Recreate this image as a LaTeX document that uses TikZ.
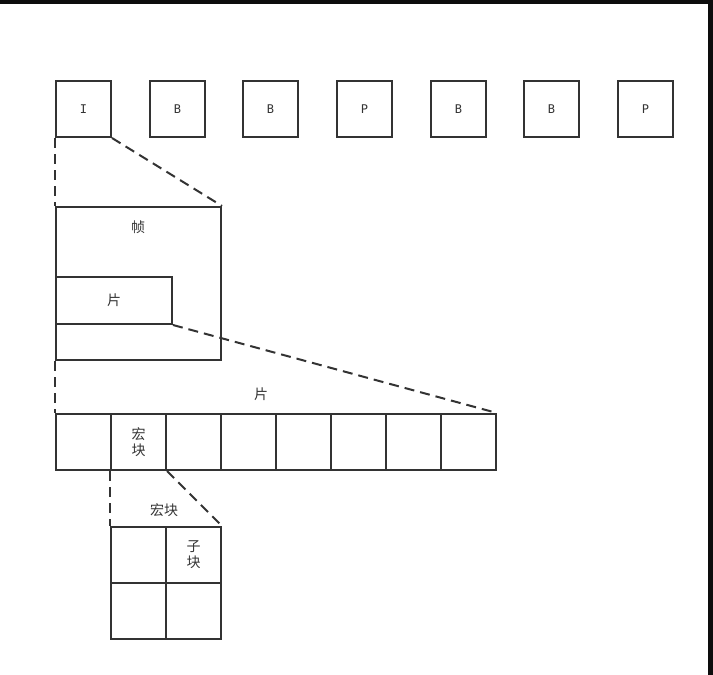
\documentclass[tikz,border=0pt]{standalone}
\usepackage{fontspec}
\setmainfont{Noto Sans CJK SC}
\newfontfamily\letterfont{DejaVu Sans Mono}
\usetikzlibrary{positioning}
\definecolor{ink}{HTML}{333333}

\begin{document}
\begin{tikzpicture}[x=1pt, y=-1pt, line width=2pt, font=\fontsize{14}{16}\selectfont,
    box/.style={rectangle, draw=ink, inner sep=0pt, text=ink, minimum width=55pt, minimum height=56pt},
    frm/.style={box, font=\letterfont\fontsize{12}{14}\selectfont},
    lbl/.style={inner sep=0pt, text=ink},
    zoomline/.style={draw=ink, dash pattern=on 10pt off 6pt}]
            \useasboundingbox (0,0) rectangle (713,675);
            \fill[black!95] (0,0) rectangle (713,3.5);
            \fill[black!95] (708,0) rectangle (712.5,675);

            % frame sequence
            \node[frm] (i1) at (83.5, 109) {I};
            \node[frm] (b1) at (177.5, 109) {B};
            \node[frm] (b2) at (270.5, 109) {B};
            \node[frm] (p1) at (364.5, 109) {P};
            \node[frm] (b3) at (458.5, 109) {B};
            \node[frm] (b4) at (551.5, 109) {B};
            \node[frm] (p2) at (645.5, 109) {P};

            % one frame with a slice
            \node[box, minimum width=165pt, minimum height=153pt] (frame) at (138.5, 283.5) {};
            \node[lbl] (framelbl) at (138, 227) {帧};
            \node[box, minimum width=116pt, minimum height=47pt] (slice) at (114, 300.5) {片};

            % slice as a row of macroblocks
            \node[lbl] (slicelbl) at (261, 394) {片};
            \node[box] (m1) at (83.5, 442) {};
            \node[box, align=center, font=\fontsize{14}{16}\selectfont] (m2) at (138.5, 442) {宏\\块};
            \node[box] (m3) at (193.5, 442) {};
            \node[box] (m4) at (248.5, 442) {};
            \node[box] (m5) at (303.5, 442) {};
            \node[box] (m6) at (358.5, 442) {};
            \node[box] (m7) at (413.5, 442) {};
            \node[box] (m8) at (468.5, 442) {};

            % macroblock split into sub-blocks
            \node[lbl] (mblbl) at (164, 510) {宏块};
            \node[box] (s1) at (138.5, 555) {};
            \node[box, align=center, font=\fontsize{14}{16}\selectfont] (s2) at (193.5, 555) {子\\块};
            \node[box] (s3) at (138.5, 611) {};
            \node[box] (s4) at (193.5, 611) {};

            \draw[zoomline] (i1.south west) -- (frame.north west);
            \draw[zoomline] (i1.south east) -- (frame.north east);
            \draw[zoomline] (frame.south west) -- (m1.north west);
            \draw[zoomline] (slice.south east) -- (m8.north east);
            \draw[zoomline] (m2.south west) -- (s1.north west);
            \draw[zoomline] (m2.south east) -- (s2.north east);
        \end{tikzpicture}
\end{document}
